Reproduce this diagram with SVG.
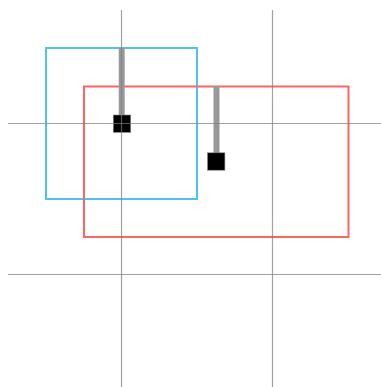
<svg xmlns="http://www.w3.org/2000/svg" width="381" height="387" viewBox="0 0 381 387">
<style>
.grid{stroke:#7a7a7a;stroke-opacity:0.7;stroke-width:1.2;fill:none}
.bar{stroke:#999;stroke-width:6;fill:none}
.pt{fill:#000;stroke:#888;stroke-width:0.6}
</style>
<rect width="381" height="387" fill="#fff"/>
<g id="blue-box">
<rect x="46" y="48" width="151" height="151" fill="none" stroke="#4fc3f0" stroke-width="2"/>
</g>
<g id="red-box">
<rect x="84" y="86.5" width="264.5" height="150.5" fill="none" stroke="#ff6464" stroke-width="2"/>
</g>
<g id="connectors">
<line class="bar" x1="121.7" y1="48" x2="121.7" y2="123"/>
<line class="bar" x1="216.5" y1="86" x2="216.5" y2="161"/>
</g>
<g id="point-blue">
<rect class="pt" x="113.3" y="115" width="17.4" height="17.4"/>
</g>
<g id="point-red">
<rect class="pt" x="207.5" y="152.8" width="17.4" height="17.4"/>
</g>
<g id="grid">
<line class="grid" x1="121.5" y1="10" x2="121.5" y2="387"/>
<line class="grid" x1="272.5" y1="10" x2="272.5" y2="387"/>
<line class="grid" x1="8" y1="123.5" x2="381" y2="123.5"/>
<line class="grid" x1="8" y1="274.5" x2="381" y2="274.5"/>
</g>
</svg>
